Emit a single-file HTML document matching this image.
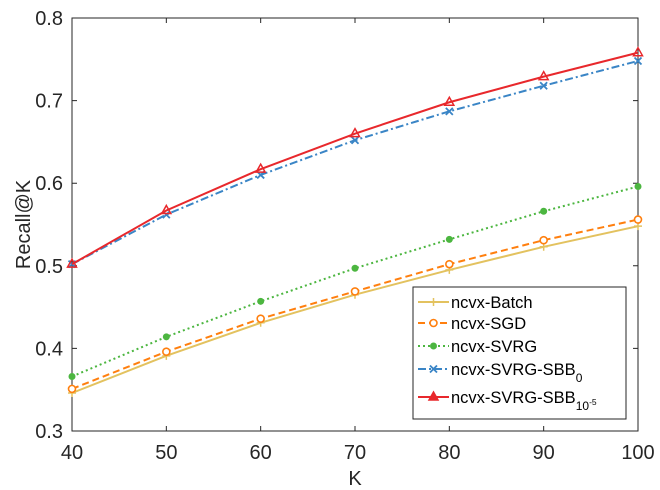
<!DOCTYPE html>
<html><head><meta charset="utf-8"><style>
body{margin:0;background:#fff;}
svg{display:block;font-family:"Liberation Sans",Arial,sans-serif;}
</style></head><body>
<svg id="chart" width="660" height="490" viewBox="0 0 660 490"></svg>
<script>
const kValues=[40,50,60,70,80,90,100];
const batch=[0.346,0.391,0.431,0.465,0.495,0.523,0.548];
const sgd=[0.351,0.396,0.436,0.469,0.502,0.531,0.556];
const svrg=[0.366,0.414,0.457,0.497,0.532,0.566,0.596];
const sbb0=[0.502,0.562,0.610,0.652,0.687,0.718,0.748];
const sbb10=[0.502,0.567,0.617,0.660,0.698,0.729,0.758];
const xTicks=[40,50,60,70,80,90,100];
const yTicks=[0.3,0.4,0.5,0.6,0.7,0.8];
const yTickLabels=["0.3","0.4","0.5","0.6","0.7","0.8"];

const L=72,R=638,T=18,B=431;
const sx=v=>L+(v-40)/60*(R-L);
const sy=v=>B-(v-0.3)/0.5*(B-T);
const svg=document.getElementById('chart');
const NS='http://www.w3.org/2000/svg';
function mk(tag,attrs,parent){const e=document.createElementNS(NS,tag);for(const k in attrs)e.setAttribute(k,attrs[k]);(parent||svg).appendChild(e);return e;}

const series=[
 {name:'batch',data:batch,color:'#e3c25f',dash:'',marker:'plus'},
 {name:'sgd',data:sgd,color:'#ff7f0e',dash:'7,4',marker:'circle'},
 {name:'svrg',data:svrg,color:'#4cb640',dash:'2,3',marker:'dot'},
 {name:'sbb0',data:sbb0,color:'#3a85c6',dash:'8,3,2,3',marker:'x'},
 {name:'sbb10',data:sbb10,color:'#e8282c',dash:'',marker:'tri'}
];
function marker(type,x,y,c,g){
 let e;
 if(type==='plus'){e=mk('path',{d:`M${x-4},${y}H${x+4}M${x},${y-4}V${y+4}`,stroke:c,'stroke-width':1.5,fill:'none'},g);}
 else if(type==='circle'){e=mk('circle',{cx:x,cy:y,r:3.5,stroke:c,'stroke-width':1.6,fill:'#fff'},g);}
 else if(type==='dot'){e=mk('circle',{cx:x,cy:y,r:3.5,fill:c},g);}
 else if(type==='x'){e=mk('path',{d:`M${x-3.5},${y-3.5}L${x+3.5},${y+3.5}M${x-3.5},${y+3.5}L${x+3.5},${y-3.5}`,stroke:c,'stroke-width':1.8,fill:'none'},g);}
 else {e=mk('path',{d:`M${x},${y-5}L${x+4.5},${y+3}L${x-4.5},${y+3}Z`,stroke:c,'stroke-width':1.5,fill:'none'},g);}
 return e;
}
const box=mk('rect',{x:L,y:T,width:R-L,height:B-T,fill:'none',stroke:'#262626','stroke-width':1});


xTicks.forEach(v=>{
 const x=sx(v);
 mk('path',{d:`M${x},${B}V${B-5}M${x},${T}V${T+5}`,stroke:'#262626'});
 const t=mk('text',{x:x,y:B+28,'text-anchor':'middle','font-size':20,fill:'#262626'});
 t.textContent=v;
 
 
});
yTicks.forEach((v,i)=>{
 const y=sy(v);
 mk('path',{d:`M${L},${y}H${L+5}M${R},${y}H${R-5}`,stroke:'#262626'});
 const t=mk('text',{x:L-9,y:y+7,'text-anchor':'end','font-size':20,fill:'#262626'});
 t.textContent=yTickLabels[i];
 
 
});
const xt=mk('text',{x:(L+R)/2,y:485,'text-anchor':'middle','font-size':20,fill:'#262626'});
xt.textContent='K';


const yt=mk('text',{x:30,y:(T+B)/2,'text-anchor':'middle','font-size':20,fill:'#262626',transform:`rotate(-90 30 ${(T+B)/2})`});
yt.textContent='Recall@K';



series.forEach(s=>{
 const g=mk('g',{});
 
 
 const pts=s.data.map((v,i)=>sx(kValues[i])+','+sy(v)).join(' ');
 mk('polyline',{points:pts,fill:'none',stroke:s.color,'stroke-width':2,'stroke-dasharray':s.dash},g);
 s.data.forEach((v,i)=>{const m=marker(s.marker,sx(kValues[i]),sy(v),s.color,g);
  
  });
});
</script>
<svg style="position:absolute;left:0;top:0" width="660" height="490">
 <g font-family="Liberation Sans, Arial, sans-serif" font-size="16.5" fill="#000">
 <rect x="413" y="287" width="213" height="132" fill="#fff" stroke="#262626"/>
 <g>
  <line x1="418" y1="302" x2="449" y2="302" stroke="#e3c25f" stroke-width="2"/>
  <path d="M429.5,302H437.5M433.5,298V306" stroke="#e3c25f" stroke-width="1.5"/>
  <text x="451" y="308">ncvx-Batch</text></g>
 <g>
  <line x1="418" y1="323" x2="449" y2="323" stroke="#ff7f0e" stroke-width="2" stroke-dasharray="7,4"/>
  <circle cx="433.5" cy="323" r="3.5" stroke="#ff7f0e" stroke-width="1.6" fill="#fff"/>
  <text x="451" y="329">ncvx-SGD</text></g>
 <g>
  <line x1="418" y1="346" x2="449" y2="346" stroke="#4cb640" stroke-width="2" stroke-dasharray="2,3"/>
  <circle cx="433.5" cy="346" r="3.5" fill="#4cb640"/>
  <text x="451" y="352">ncvx-SVRG</text></g>
 <g>
  <line x1="418" y1="369" x2="449" y2="369" stroke="#3a85c6" stroke-width="2" stroke-dasharray="8,3,2,3"/>
  <path d="M430,365.5L437,372.5M430,372.5L437,365.5" stroke="#3a85c6" stroke-width="1.8"/>
  <text x="451" y="375">ncvx-SVRG-SBB<tspan font-size="12" dy="7">0</tspan></text></g>
 <g>
  <line x1="418" y1="397" x2="449" y2="397" stroke="#e8282c" stroke-width="2"/>
  <path d="M433.5,392L438,400L429,400Z" stroke="#e8282c" stroke-width="1.5" fill="#e8282c"/>
  <text x="451" y="403">ncvx-SVRG-SBB<tspan font-size="12" dy="7">10</tspan><tspan font-size="8.5" dy="-5">-5</tspan></text></g>
 </g>
</svg>
</body></html>
